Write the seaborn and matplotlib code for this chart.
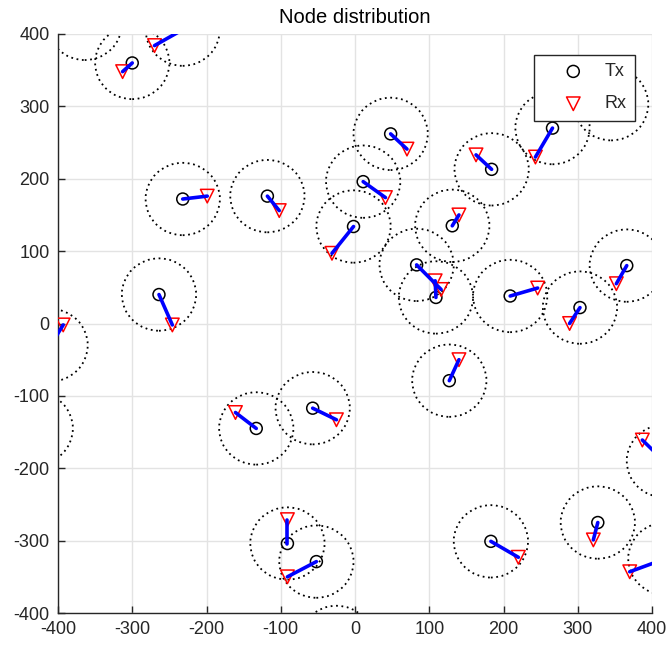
import numpy as np
import pandas as pd
import matplotlib
matplotlib.use("Agg")
import matplotlib.pyplot as plt
from matplotlib.patches import Circle
import seaborn as sns

# ---- data ----
tx_x = [-300, -232, -364, -232, -118, -264, -410, -430, -133, -57, -91, -52, -25,
        -2, 11, 48, 83, 109, 131, 184, 266, 209, 303, 366, 127, 183, 327, 416, 418, 345]
tx_y = [360, 406, 414, 172, 176, 40, -30, -145, -145, -117, -304, -329, -440,
        134, 196, 262, 81, 36, 135, 213, 270, 38, 22, 80, -79, -301, -275, -190, -325, 303]
rx_x = [-313, -270, -380, -199, -102, -246, -393, -450, -161, -25, -91, -91, -10,
        -31, 41, 70, 116, 108, 140, 163, 243, 246, 289, 352, 140, 220, 321, 387, 370, 325]
rx_y = [348, 384, 440, 176, 156, -2, -2, -160, -123, -133, -271, -350, -460,
        97, 174, 241, 47, 59, 150, 233, 230, 49, 0, 55, -50, -323, -299, -161, -343, 320]
coverage_radius = 50
x_ticks = [-400, -300, -200, -100, 0, 100, 200, 300, 400]
y_ticks = [-400, -300, -200, -100, 0, 100, 200, 300, 400]
title_text = "Node distribution"
legend_labels = ["Tx", "Rx"]

sns.set_theme(style="whitegrid")
plt.rcParams['font.family'] = ['Liberation Sans', 'DejaVu Sans']
plt.rcParams['axes.unicode_minus'] = False

fig = plt.figure(figsize=(6.67, 6.5), dpi=100)
ax = fig.add_axes([58 / 667, 1 - 613 / 650, 594 / 667, 579 / 650])
lim = (x_ticks[0], x_ticks[-1])

# coverage circles around each transmitter
for cx, cy in zip(tx_x, tx_y):
    ax.add_patch(Circle((cx, cy), coverage_radius, fill=False, edgecolor='black',
                        linestyle=(0, (1, 2)), linewidth=1.3, zorder=2))

# markers (like MATLAB, markers whose centre lies outside the axes are not drawn)
nodes = pd.DataFrame({'tx_x': tx_x, 'tx_y': tx_y, 'rx_x': rx_x, 'rx_y': rx_y})
tx_in = nodes[nodes.tx_x.between(*lim) & nodes.tx_y.between(*lim)]
rx_in = nodes[nodes.rx_x.between(*lim) & nodes.rx_y.between(*lim)]
sns.scatterplot(data=tx_in, x='tx_x', y='tx_y', marker='o', s=74, facecolor='none',
                edgecolor='black', linewidth=1.1, label=legend_labels[0], ax=ax, zorder=3)
sns.scatterplot(data=rx_in, x='rx_x', y='rx_y', marker='v', s=95, facecolor='none',
                edgecolor='red', linewidth=1.1, label=legend_labels[1], ax=ax, zorder=3)

# links Tx -> Rx
n = len(tx_x)
pair_id = list(range(n))
lines_df = pd.DataFrame({
    'x': list(tx_x) + list(rx_x),
    'y': list(tx_y) + list(rx_y),
    'pair': pair_id + pair_id,
})
sns.lineplot(data=lines_df, x='x', y='y', units='pair', estimator=None, sort=False,
             color='blue', linewidth=2.6, ax=ax, legend=False, zorder=4)

ax.set_xlim(*lim)
ax.set_ylim(*lim)
ax.set_xticks(x_ticks)
ax.set_yticks(y_ticks)
ax.set_xlabel("")
ax.set_ylabel("")
ax.set_axisbelow(True)
ax.grid(True, color='#e3e3e3', linewidth=1.0)
ax.set_facecolor('white')
for side in ['top', 'right']:
    ax.spines[side].set_visible(False)
for side in ['left', 'bottom']:
    ax.spines[side].set_visible(True)
    ax.spines[side].set_color('#262626')
    ax.spines[side].set_linewidth(1.0)
ax.tick_params(axis='both', direction='in', length=5, width=1.0, colors='#262626',
               labelsize=13, pad=6, left=True, bottom=True)

ax.set_title(title_text, fontsize=14.5, color='black', pad=8)

leg = ax.legend(loc='upper right', bbox_to_anchor=(0.9714, 0.9637), borderaxespad=0,
                fontsize=13, frameon=True, fancybox=False, framealpha=1,
                edgecolor='#262626', handlelength=3.4, handletextpad=0.05,
                borderpad=0.45, labelspacing=0.85, scatterpoints=1)
leg.get_frame().set_linewidth(1.0)

fig.savefig("out.png", dpi=100)
